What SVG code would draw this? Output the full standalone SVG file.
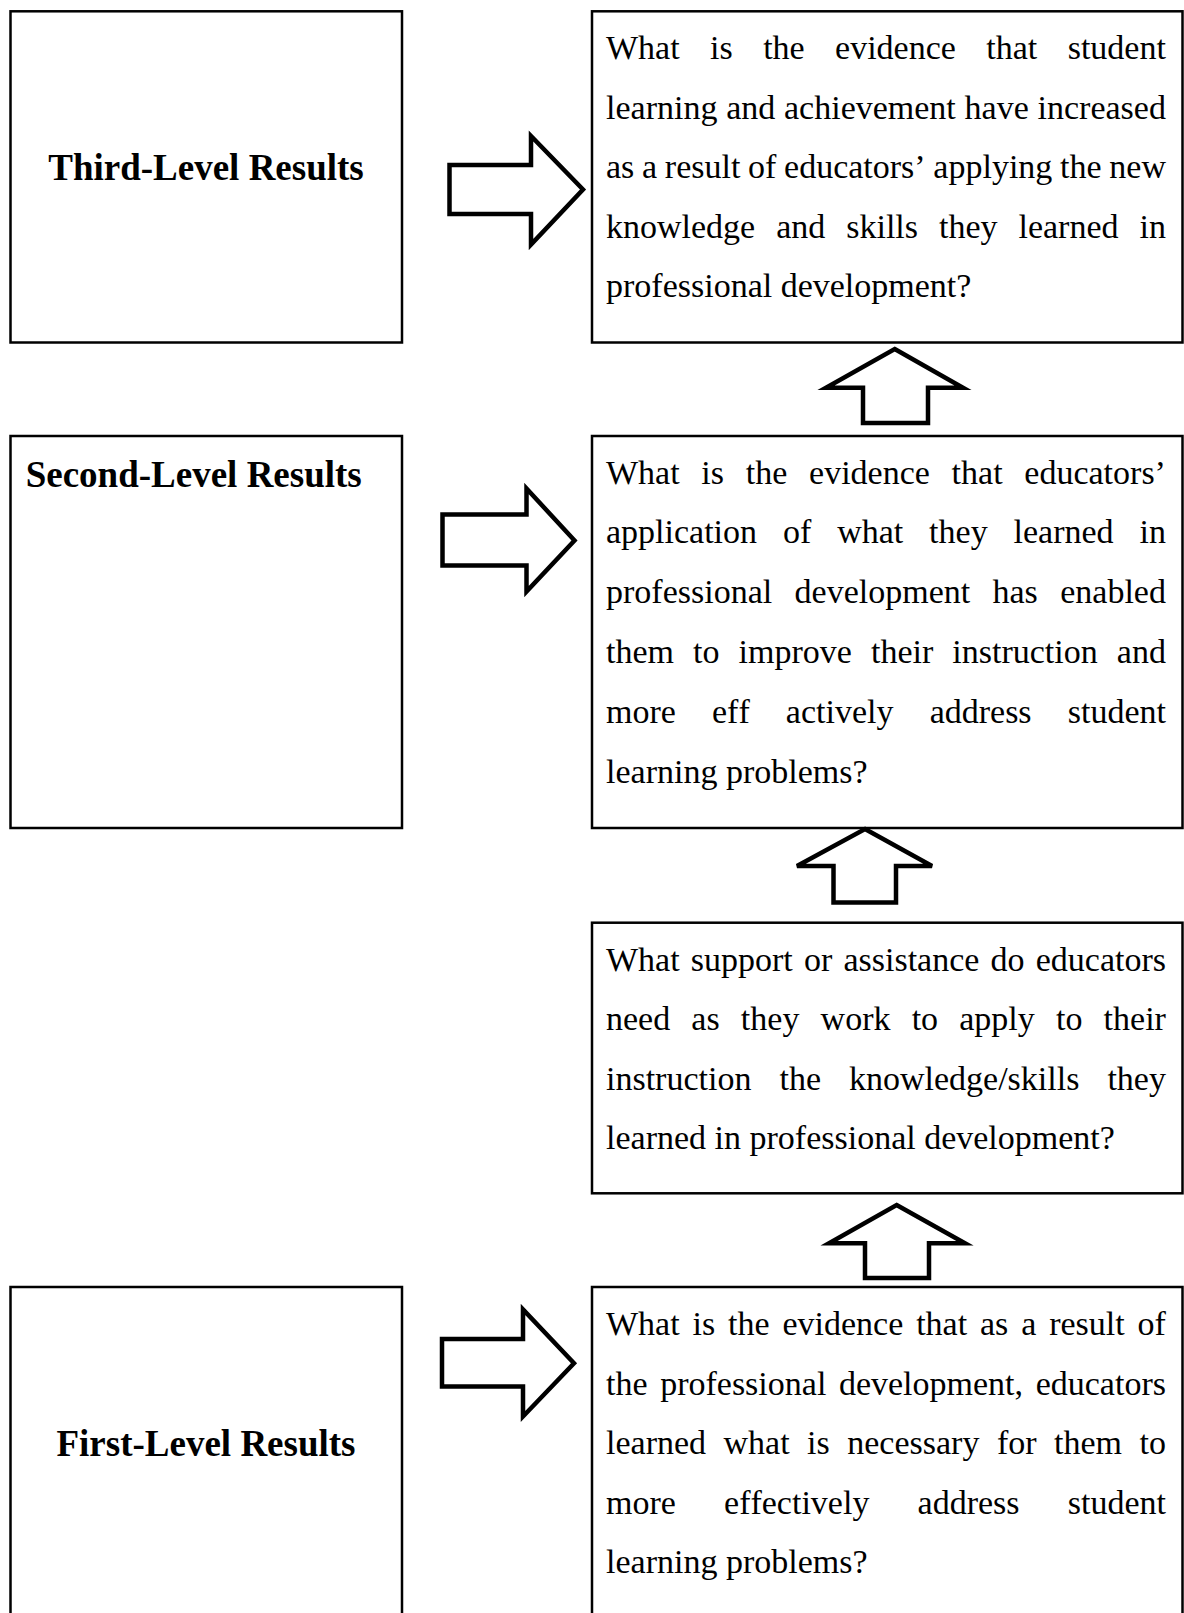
<svg xmlns="http://www.w3.org/2000/svg" width="1184" height="1613" viewBox="0 0 1184 1613">
<style>
.box{fill:#fff;stroke:#000;stroke-width:2.5}
.arr{fill:#fff;stroke:#000;stroke-width:4.5;stroke-linejoin:miter}
.lbl{font-family:"Liberation Serif","Times New Roman",serif;font-weight:bold;font-size:37px;fill:#000;font-kerning:none;font-variant-ligatures:none}
.t{font-family:"Liberation Serif","Times New Roman",serif;font-size:34px;fill:#000;font-kerning:none;font-variant-ligatures:none}
</style>
<rect width="1184" height="1613" fill="#fff"/>
<g id="third-level">
<rect class="box" x="10.5" y="11.3" width="391.5" height="331.2"/>
<text class="lbl" x="206" y="180" text-anchor="middle">Third-Level Results</text>
</g>
<g id="third-question">
<rect class="box" x="592" y="11.3" width="590.5" height="331.2"/>
<text class="t" x="606" y="59" word-spacing="21.91">What is the evidence that student</text>
<text class="t" x="606" y="118.5" word-spacing="0.27">learning and achievement have increased</text>
<text class="t" x="606" y="178" word-spacing="-0.8">as a result of educators’ applying the new</text>
<text class="t" x="606" y="237.5" word-spacing="12.47">knowledge and skills they learned in</text>
<text class="t" x="606" y="297">professional development?</text>
</g>
<g id="second-level">
<rect class="box" x="10.5" y="436" width="391.5" height="392"/>
<text class="lbl" x="25.7" y="486.5">Second-Level Results</text>
</g>
<g id="second-question">
<rect class="box" x="592" y="436" width="590.5" height="392"/>
<text class="t" x="606" y="483.5" word-spacing="13.24">What is the evidence that educators’</text>
<text class="t" x="606" y="543.3" word-spacing="17.38">application of what they learned in</text>
<text class="t" x="606" y="603.1" word-spacing="13.87">professional development has enabled</text>
<text class="t" x="606" y="662.9" word-spacing="10.57">them to improve their instruction and</text>
<text class="t" x="606" y="722.7" word-spacing="27.64">more eff actively address student</text>
<text class="t" x="606" y="782.5">learning problems?</text>
</g>
<g id="support-question">
<rect class="box" x="592" y="922.7" width="590.5" height="270.6"/>
<text class="t" x="606" y="970.5" word-spacing="2.66">What support or assistance do educators</text>
<text class="t" x="606" y="1030" word-spacing="12.68">need as they work to apply to their</text>
<text class="t" x="606" y="1089.5" word-spacing="19.5">instruction the knowledge/skills they</text>
<text class="t" x="606" y="1149">learned in professional development?</text>
</g>
<g id="first-level">
<rect class="box" x="10.5" y="1287" width="391.5" height="340"/>
<text class="lbl" x="206" y="1456" text-anchor="middle">First-Level Results</text>
</g>
<g id="first-question">
<rect class="box" x="592" y="1287" width="590.5" height="340"/>
<text class="t" x="606" y="1335" word-spacing="4.37">What is the evidence that as a result of</text>
<text class="t" x="606" y="1394.5" word-spacing="4.11">the professional development, educators</text>
<text class="t" x="606" y="1454" word-spacing="8.99">learned what is necessary for them to</text>
<text class="t" x="606" y="1513.5" word-spacing="39.68">more effectively address student</text>
<text class="t" x="606" y="1573">learning problems?</text>
</g>
<g id="connectors">
<polygon class="arr" points="449.5,165 531,165 531,136 583,189.5 531,244.5 531,214 449.5,214"/>
<polygon class="arr" points="442.5,514.5 526.5,514.5 526.5,488.5 574.5,540.5 526.5,591.5 526.5,565.5 442.5,565.5"/>
<polygon class="arr" points="442,1339 523,1339 523,1309.5 574,1363.3 523,1416.5 523,1386.5 442,1386.5"/>
<polygon class="arr" points="894.7,349 963,387.7 928,387.7 928,423 863,423 863,387.7 826,387.7"/>
<polygon class="arr" points="865,829 932,866 896,866 896,902.5 833.5,902.5 833.5,866 797,866"/>
<polygon class="arr" points="896.6,1205 965,1243.3 929,1243.3 929,1278 865,1278 865,1243.3 829,1243.3"/>
</g>
</svg>
